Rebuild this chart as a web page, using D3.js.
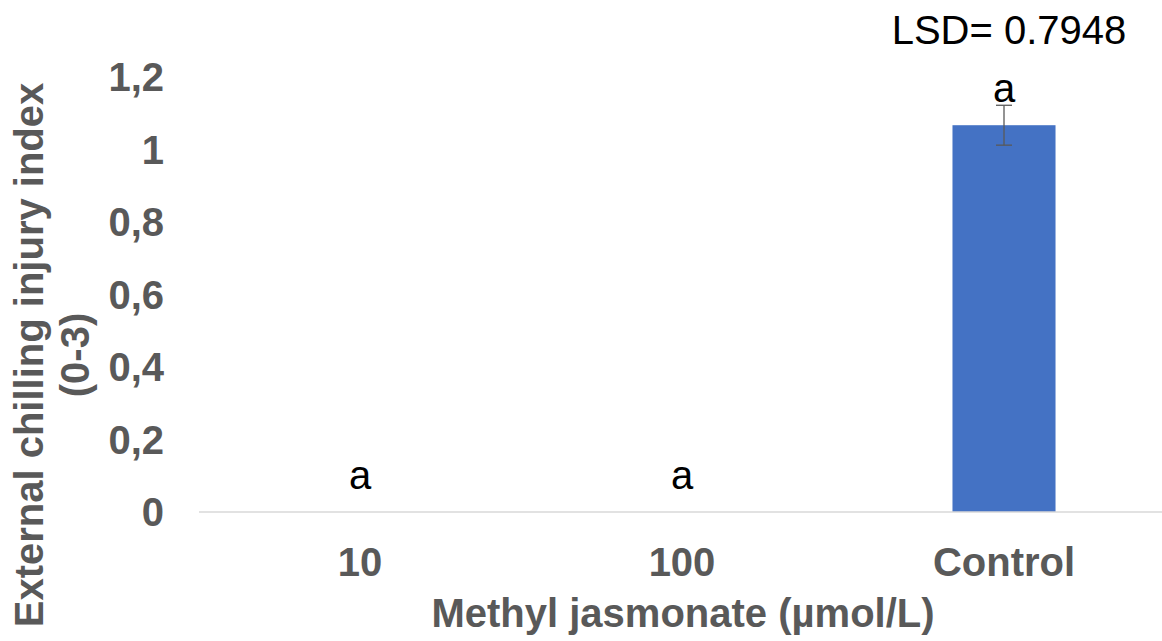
<html>
<head>
<script src="https://d3js.org/d3.v7.min.js"></script>
<style>
  body { margin: 0; background: #fff; }
  svg text { font-family: "Liberation Sans", Arial, sans-serif; }
</style>
</head>
<body>
<script>
var categories = ["10", "100", "Control"];
var values = [0, 0, 1.067];
var errors = [0, 0, 0.055];
var letters = ["a", "a", "a"];
var yTicks = [0, 0.2, 0.4, 0.6, 0.8, 1, 1.2];

var width = 1162, height = 641;

var svg = d3.select("body").append("svg")
  .attr("width", width)
  .attr("height", height);

var x = d3.scaleBand()
  .domain(categories)
  .range([199, 1165])
  .paddingInner(0.68)
  .paddingOuter(0.34);

var y = d3.scaleLinear()
  .domain([0, 1.2])
  .range([512, 77]);

// tick labels
svg.selectAll(".ytick")
  .data(yTicks)
  .enter().append("text")
  .attr("x", 164)
  .attr("y", function(d) { return y(d); })
  .attr("dy", "0.35em")
  .attr("text-anchor", "end")
  .style("font-size", "40px")
  .style("font-weight", "bold")
  .style("fill", "#595959")
  .text(function(d) { return String(d).replace(".", ","); });

// bars
svg.selectAll(".bar")
  .data(values)
  .enter().append("rect")
  .attr("x", function(d, i) { return x(categories[i]); })
  .attr("y", function(d) { return y(d); })
  .attr("width", x.bandwidth())
  .attr("height", function(d) { return y(0) - y(d); })
  .style("fill", "#4472C4");

// axis line
svg.append("line")
  .attr("x1", 199).attr("x2", 1162)
  .attr("y1", y(0)).attr("y2", y(0))
  .style("stroke", "#d9d9d9")
  .style("stroke-width", 1.5);

// error bars
values.forEach(function(v, i) {
  if (!errors[i]) return;
  var cx = x(categories[i]) + x.bandwidth() / 2;
  var g = svg.append("g").style("stroke", "#595959").style("stroke-width", 1.3);
  g.append("line").attr("x1", cx).attr("x2", cx)
    .attr("y1", y(v + errors[i])).attr("y2", y(v - errors[i]));
  g.append("line").attr("x1", cx - 8).attr("x2", cx + 8)
    .attr("y1", y(v + errors[i])).attr("y2", y(v + errors[i]));
  g.append("line").attr("x1", cx - 8).attr("x2", cx + 8)
    .attr("y1", y(v - errors[i])).attr("y2", y(v - errors[i]));
});

// significance letters
svg.selectAll(".letter")
  .data(letters)
  .enter().append("text")
  .attr("x", function(d, i) { return x(categories[i]) + x.bandwidth() / 2; })
  .attr("y", function(d, i) { return y(values[i]) - 23; })
  .attr("text-anchor", "middle")
  .style("font-size", "40px")
  .style("fill", "#000")
  .text(function(d) { return d; });

// category labels
svg.selectAll(".xlab")
  .data(categories)
  .enter().append("text")
  .attr("x", function(d) { return x(d) + x.bandwidth() / 2; })
  .attr("y", 576)
  .attr("text-anchor", "middle")
  .style("font-size", "40px")
  .style("font-weight", "bold")
  .style("fill", "#595959")
  .text(function(d) { return d; });

// x title
svg.append("text")
  .attr("x", 683)
  .attr("y", 627)
  .attr("text-anchor", "middle")
  .style("font-size", "40px")
  .style("font-weight", "bold")
  .style("fill", "#595959")
  .text("Methyl jasmonate (\u00b5mol/L)");

// y title
var yt = svg.append("text")
  .attr("transform", "translate(43,355) rotate(-90)")
  .attr("text-anchor", "middle")
  .style("font-size", "40px")
  .style("font-weight", "bold")
  .style("fill", "#595959");
yt.append("tspan").attr("x", 0).attr("y", 0).text("External chilling injury index");
yt.append("tspan").attr("x", 0).attr("y", 46).text("(0-3)");

// LSD
svg.append("text")
  .attr("x", 1009)
  .attr("y", 44)
  .attr("text-anchor", "middle")
  .style("font-size", "40px")
  .style("fill", "#000")
  .text("LSD= 0.7948");
</script>
</body>
</html>
